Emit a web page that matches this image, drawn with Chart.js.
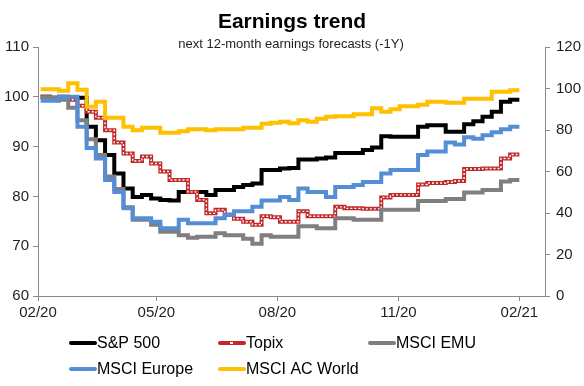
<!DOCTYPE html>
<html><head><meta charset="utf-8">
<script src="https://cdn.jsdelivr.net/npm/chart.js@4.4.1/dist/chart.umd.min.js"></script>
<style>html,body{margin:0;padding:0;background:#fff;}#wrap{width:584px;height:386px;position:relative;}</style>
</head><body><div id="wrap"><canvas id="c" width="584" height="386"></canvas></div>
<script>
const titleText = 'Earnings trend';
const subtitleText = 'next 12-month earnings forecasts (-1Y)';
const weekDates = [
 '2020-02-03','2020-02-10','2020-02-17','2020-02-24','2020-03-02','2020-03-09','2020-03-16','2020-03-23','2020-03-30',
 '2020-04-06','2020-04-13','2020-04-20','2020-04-27','2020-05-04','2020-05-11','2020-05-18','2020-05-25',
 '2020-06-01','2020-06-08','2020-06-15','2020-06-22','2020-06-29','2020-07-06','2020-07-13','2020-07-20','2020-07-27',
 '2020-08-03','2020-08-10','2020-08-17','2020-08-24','2020-08-31','2020-09-07','2020-09-14','2020-09-21','2020-09-28',
 '2020-10-05','2020-10-12','2020-10-19','2020-10-26','2020-11-02','2020-11-09','2020-11-16','2020-11-23','2020-11-30',
 '2020-12-07','2020-12-14','2020-12-21','2020-12-28','2021-01-04','2021-01-11','2021-01-18','2021-01-25','2021-02-01'];
const xTickDates = ['2020-02-01','2020-05-01','2020-08-01','2020-11-01','2021-02-01'];
const xTickLabels = ['02/20','05/20','08/20','11/20','02/21'];
const seriesNames = ['S&P 500','Topix','MSCI EMU','MSCI Europe','MSCI AC World'];
const sp500 = [100.0,99.7,100.0,99.8,99.8,94.0,91.3,88.3,84.6,81.6,79.9,80.3,79.6,79.3,79.2,80.9,80.9,
 80.9,80.3,81.3,81.3,81.9,82.3,82.6,85.3,85.3,85.6,85.7,87.4,87.4,87.6,87.8,88.7,88.7,88.7,
 89.3,89.8,92.1,92.0,92.0,92.0,94.0,94.3,94.3,93.0,93.0,94.5,95.1,96.0,97.0,99.0,99.4,99.4];
const topix = [100.0,99.7,99.9,99.4,98.2,97.0,95.8,93.3,90.8,88.6,87.1,88.0,86.6,85.0,83.3,83.3,80.9,
 79.3,76.6,77.3,76.3,75.5,74.9,74.3,76.0,75.8,74.9,74.9,77.0,76.0,76.0,76.0,77.9,77.6,77.6,
 77.5,77.5,79.8,80.3,80.3,80.3,82.4,82.7,82.7,82.9,83.1,85.5,85.5,85.6,85.6,87.6,88.4,88.4];
const msciEmu = [99.9,99.9,99.4,97.8,95.3,91.5,88.3,84.0,81.5,77.8,75.3,75.3,74.3,72.9,72.9,72.2,71.7,
 71.9,71.9,72.6,72.2,72.2,71.5,70.5,72.2,71.9,71.9,71.9,74.0,74.0,73.6,73.6,75.6,75.6,75.3,
 75.3,75.3,77.3,77.3,77.3,77.3,79.1,79.1,79.1,79.5,79.5,80.8,80.8,81.3,81.3,83.0,83.3,83.3];
const msciEurope = [99.2,99.2,100.0,100.0,94.0,89.7,87.6,83.3,80.9,77.6,75.6,75.6,74.9,73.6,73.6,75.3,74.6,
 74.6,74.6,75.6,76.3,77.0,77.0,77.9,79.2,79.2,79.9,79.3,81.6,80.9,80.9,79.9,81.9,81.9,82.3,
 82.9,82.9,84.6,85.3,85.3,85.3,88.3,89.0,89.0,90.8,90.4,91.9,91.6,92.3,92.9,93.5,94.0,94.0];
const msciAcWorld = [101.5,101.5,101.2,102.7,101.4,98.0,99.0,95.8,95.8,94.0,93.3,93.8,93.8,92.8,92.8,93.1,93.5,
 93.5,93.3,93.5,93.5,93.5,93.8,93.8,94.6,94.8,95.0,94.7,95.3,95.0,95.6,96.0,96.1,96.1,96.5,
 96.5,97.7,97.0,97.5,98.1,98.1,98.4,99.0,99.0,98.8,98.8,99.6,99.6,99.6,101.0,101.0,101.3,101.3];

const FONT = "'Liberation Sans', Arial, sans-serif";
const TXT = '#1e1e1e';
const AXIS = '#8a8a8a';
const colors = {sp:'#000000', topix:'#C0282A', emu:'#7F7F7F', europe:'#558ED5', acwi:'#FFC000'};
const base = Date.UTC(2020,1,1);
const dayOf = s => Math.round((Date.parse(s + 'T00:00:00Z') - base) / 86400000);
const tickDays = xTickDates.map(dayOf);
const pts = arr => weekDates.map((d, i) => ({x: dayOf(d), y: arr[i]}));

const mk = (label, arr, color, order, extra) => Object.assign({
  label, data: pts(arr), borderColor: color, backgroundColor: color, borderWidth: 4,
  stepped: true, pointRadius: 0, fill: false, order, yAxisID: 'y',
  borderCapStyle: 'butt', borderJoinStyle: 'miter'
}, extra || {});

const datasets = [
  mk(seriesNames[4], msciAcWorld, colors.acwi, 1),
  mk(seriesNames[3], msciEurope, colors.europe, 2),
  mk(seriesNames[2], msciEmu, colors.emu, 3),
  mk('Topix-dots', topix, '#ffffff', 3.5, {borderWidth: 1.4, borderDash: [2, 2]}),
  mk(seriesNames[1], topix, colors.topix, 4),
  mk(seriesNames[0], sp500, colors.sp, 5)
];

const legendItems = [
  {name: seriesNames[0], color: colors.sp, x: 70, row: 0},
  {name: seriesNames[1], color: colors.topix, x: 219, row: 0, dot: true},
  {name: seriesNames[2], color: colors.emu, x: 369, row: 0},
  {name: seriesNames[3], color: colors.europe, x: 70, row: 1},
  {name: seriesNames[4], color: colors.acwi, x: 219, row: 1}
];
const legendRows = [343, 369];

const decor = {
  id: 'decor',
  afterDraw(chart) {
    const ctx = chart.ctx;
    ctx.save();
    ctx.fillStyle = '#000';
    ctx.textAlign = 'center';
    ctx.textBaseline = 'middle';
    ctx.font = 'bold 21px ' + FONT;
    ctx.fillText(titleText, 292, 22);
    ctx.font = '13px ' + FONT;
    ctx.fillStyle = TXT;
    ctx.fillText(subtitleText, 291, 44);
    ctx.textAlign = 'left';
    ctx.font = '16px ' + FONT;
    legendItems.forEach(it => {
      const y = legendRows[it.row];
      ctx.strokeStyle = it.color;
      ctx.lineWidth = 4;
      ctx.lineCap = 'round';
      ctx.beginPath(); ctx.moveTo(it.x + 1, y); ctx.lineTo(it.x + 25, y); ctx.stroke();
      if (it.dot) { ctx.fillStyle = '#fff'; ctx.fillRect(it.x + 11, y - 1, 3, 2); }
      ctx.fillStyle = '#000';
      ctx.fillText(it.name, it.x + 27, y + 1);
    });
    ctx.restore();
  }
};

new Chart(document.getElementById('c'), {
  type: 'line',
  data: {datasets},
  plugins: [decor],
  options: {
    responsive: false, animation: false, devicePixelRatio: 1,
    layout: {padding: {top: 47, left: 0, right: 0, bottom: 0}},
    plugins: {legend: {display: false}, tooltip: {enabled: false}, title: {display: false}},
    scales: {
      x: {
        type: 'linear', min: 0, max: 385.5,
        afterBuildTicks: s => { s.ticks = tickDays.map(v => ({value: v})); },
        afterFit: s => { s.height = 90; },
        ticks: {autoSkip: false, maxRotation: 0, color: TXT, padding: 3,
          font: {family: FONT, size: 15}, callback: (v, i) => xTickLabels[i]},
        grid: {drawOnChartArea: false, tickLength: 5, color: AXIS},
        border: {color: AXIS, width: 1}
      },
      y: {
        position: 'left', min: 60, max: 110,
        afterFit: s => { s.width = 38; },
        ticks: {stepSize: 10, color: TXT, padding: 4, font: {family: FONT, size: 15}},
        grid: {drawOnChartArea: false, tickLength: 5, color: AXIS},
        border: {color: AXIS, width: 1}
      },
      y2: {
        position: 'right', min: 0, max: 120,
        afterFit: s => { s.width = 39; },
        ticks: {stepSize: 20, color: TXT, padding: 6, font: {family: FONT, size: 15}},
        grid: {drawOnChartArea: false, tickLength: 5, color: AXIS},
        border: {color: AXIS, width: 1}
      }
    }
  }
});
</script></body></html>
